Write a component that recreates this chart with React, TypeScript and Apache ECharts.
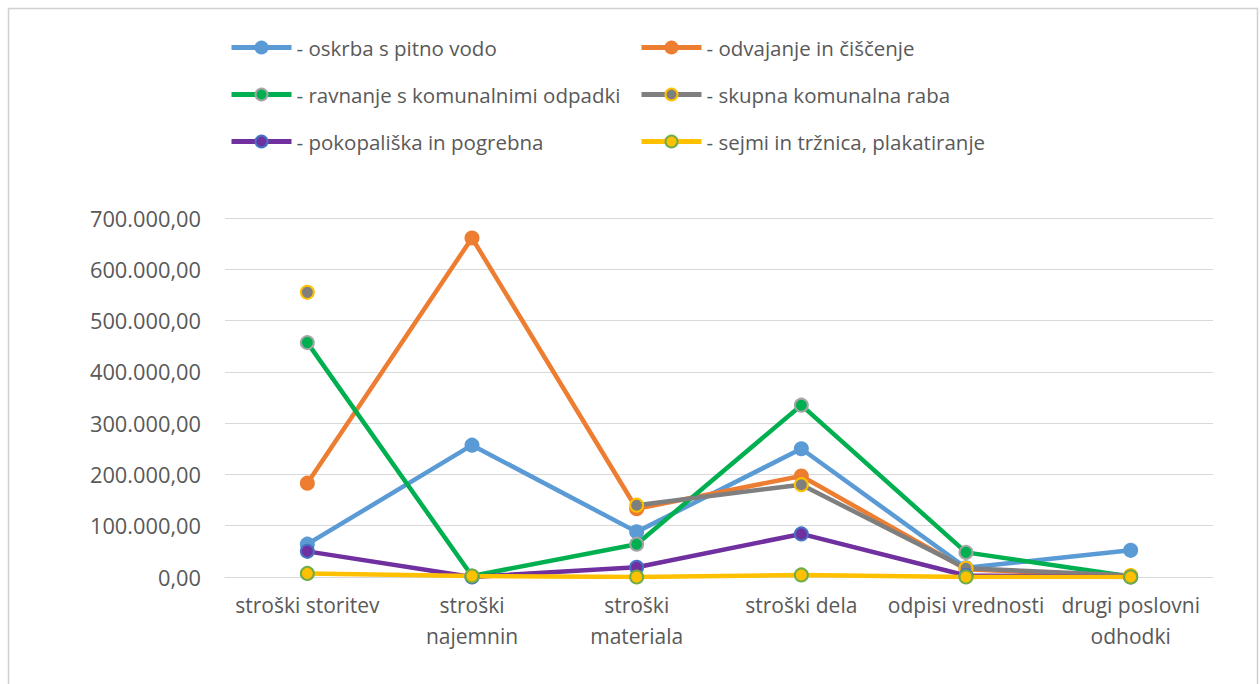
import React, { useEffect, useRef } from "react";
import * as echarts from "echarts";

const categories = [
  "stroški storitev",
  "stroški\nnajemnin",
  "stroški\nmateriala",
  "stroški dela",
  "odpisi vrednosti",
  "drugi poslovni\nodhodki",
];

const seriesNames = [
  "- oskrba s pitno vodo",
  "- odvajanje in čiščenje",
  "- ravnanje s komunalnimi odpadki",
  "- skupna komunalna raba",
  "- pokopališka in pogrebna",
  "- sejmi in tržnica, plakatiranje",
];

const oskrba = [64000, 257000, 88000, 250000, 18000, 52000];
const odvajanje = [183000, 661000, 133000, 197000, 15000, 1000];
const ravnanje = [457000, 2000, 64000, 335000, 48000, 1000];
const skupna = [555000, null, 140000, 180000, 17000, 3000];
const pokopaliska = [50000, 0, 19000, 84000, 3000, 0];
const sejmi = [7000, 2000, 0, 4000, 0, 0];

const yTicks = { min: 0, max: 700000, interval: 100000 };

const lineColors = ["#5B9BD5", "#ED7D31", "#00B050", "#7F7F7F", "#7030A0", "#FFC000"];
const borderColors = ["#5B9BD5", "#ED7D31", "#A5A5A5", "#FFC000", "#4472C4", "#70AD47"];

const FONT = "'Open Sans', sans-serif";
const TEXT = "#595959";

function fmt(v: number): string {
  const s = Math.round(v).toString();
  const withDots = s.replace(/\B(?=(\d{3})+(?!\d))/g, ".");
  return withDots + ",00";
}

export default function App() {
  const ref = useRef<HTMLDivElement>(null);
  useEffect(() => {
    if (!ref.current) return;
    const chart = echarts.init(ref.current, null, { renderer: "svg" });
    const datasets = [oskrba, odvajanje, ravnanje, skupna, pokopaliska, sejmi];
    const legendText = {
      color: TEXT,
      fontFamily: FONT,
      fontSize: 20.5,
      lineHeight: 20,
    };
    const legendBase = {
      orient: "vertical",
      top: 37,
      padding: 0,
      itemWidth: 60,
      itemHeight: 15,
      itemGap: 26,
      textStyle: legendText,
      lineStyle: { width: 5 },
    };
    chart.setOption({
      animation: false,
      backgroundColor: "#ffffff",
      graphic: [
        {
          type: "rect",
          shape: { x: 8.5, y: 8.5, width: 1249, height: 700 },
          style: { fill: "none", stroke: "#D0D0D0", lineWidth: 1.5 },
          silent: true,
        },
      ],
      legend: [
        {
          ...legendBase,
          left: 229,
          data: [seriesNames[0], seriesNames[2], seriesNames[4]],
        },
        {
          ...legendBase,
          left: 639,
          data: [seriesNames[1], seriesNames[3], seriesNames[5]],
        },
      ],
      grid: { left: 225, top: 218, width: 988, height: 359, containLabel: false },
      xAxis: {
        type: "category",
        data: categories,
        boundaryGap: true,
        axisLine: { show: true, lineStyle: { color: "#D9D9D9", width: 1 } },
        axisTick: { show: false },
        axisLabel: {
          color: TEXT,
          fontFamily: FONT,
          fontSize: 21,
          lineHeight: 31,
          margin: 12,
          interval: 0,
        },
      },
      yAxis: {
        type: "value",
        min: yTicks.min,
        max: yTicks.max,
        interval: yTicks.interval,
        axisLine: { show: false },
        axisTick: { show: false },
        splitLine: { lineStyle: { color: "#D9D9D9", width: 1 } },
        axisLabel: {
          color: TEXT,
          fontFamily: FONT,
          fontSize: 21.8,
          margin: 24,
          formatter: (v: number) => fmt(v),
        },
      },
      series: datasets.map((d, i) => ({
        name: seriesNames[i],
        type: "line",
        data: d,
        connectNulls: false,
        symbol: "circle",
        symbolSize: 13,
        showAllSymbol: true,
        lineStyle: { color: lineColors[i], width: 4.5 },
        itemStyle: { color: lineColors[i], borderColor: borderColors[i], borderWidth: 2 },
        emphasis: { disabled: true },
      })),
    });
    return () => chart.dispose();
  }, []);
  return (
    <div
      ref={ref}
      style={{ position: "fixed", left: 0, top: 0, width: 1260, height: 684 }}
    />
  );
}
